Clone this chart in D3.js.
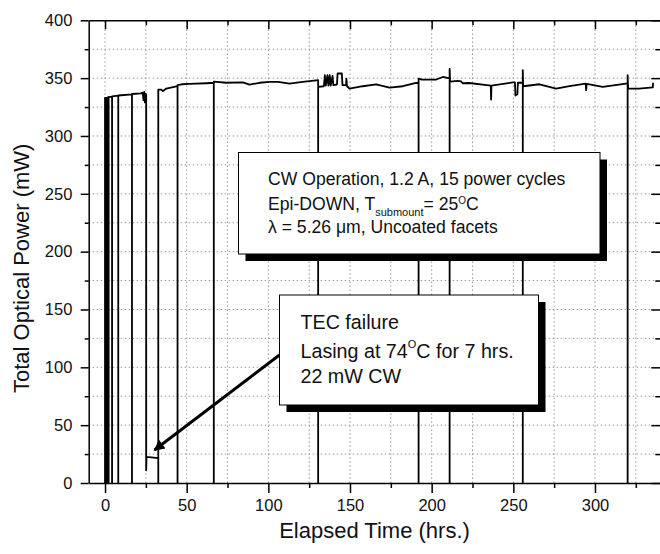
<!DOCTYPE html>
<html>
<head>
<meta charset="utf-8">
<script src="https://cdn.jsdelivr.net/npm/d3@7"></script>
<style>
  body { margin: 0; background: #fff; }
  svg { display: block; font-family: "Liberation Sans", Arial, sans-serif; }
  .grid line { stroke: #9a9a9a; stroke-width: 1; stroke-dasharray: 1.5,2.5; }
  .ax path, .ax line { stroke: #000; stroke-width: 1.5; }
  .ax text { font-size: 16.5px; fill: #111; }
</style>
</head>
<body>
<svg id="chart"></svg>
<script>
// elapsed time (hrs) / total optical power (mW)
// each power cycle goes down to 0 and back up
const traceTime = [
  0, 0, 0.4, 0.4, 0.8, 0.8, 1.2, 1.2, 1.6, 1.6, 2.0, 2.0, 2.2, 2.2,
  4.3, 4.3, 4.3, 8.1, 8.1, 8.1, 16.5, 16.5, 16.5, 22, 23, 23.6, 24, 24.4, 24.8,
  25.2, 25.2, 25.4, 32.6, 32.6, 32.6, 34.5, 35.5, 37.5, 44.4, 44.4, 44.4,
  47, 51.7, 62, 66.6, 66.6, 66.6, 74.2, 84.4, 88.5, 94.6, 100.7, 106, 113, 121, 129.3,
  130.5, 130.5, 130.5, 134, 134.6, 135.2, 136.2, 136.8, 137.6, 138.2, 139.3, 139.8,
  142, 142.4, 145, 145.4, 147.6, 147.8, 148.2, 149.7, 157.8, 166, 174.2, 182.3, 190.5,
  192, 192, 192, 194, 202.8, 206.8, 211, 211, 211, 211.3, 216, 218, 219, 223,
  236.2, 236.4, 236.6, 249.7, 251, 251.3, 252.5, 252.8, 255.8, 255.8, 255.8, 256,
  266, 276.2, 284.4, 294.3, 294.6, 294.9, 304.8, 319, 320, 320, 320, 320.3, 327, 335.4, 335.6
];
const tracePower = [
  0, 333, 333, 0, 0, 333, 333, 0, 0, 333.3, 333.5, 0, 0, 333.5,
  334, 0, 334.2, 334.8, 0, 335, 336, 0, 336.3, 336.8, 337.5, 331, 338, 329, 336.5,
  336, 11, 22.5, 21.5, 0, 340, 340, 338.8, 341, 343, 0, 344,
  344.7, 345, 345.6, 346, 0, 347, 346, 346.4, 344.4, 346, 346.7, 346.8, 345.3, 346.7, 348,
  348.2, 0, 342.4, 343, 352.5, 343.5, 352.5, 343.5, 352.5, 343.5, 352, 344,
  344.5, 354, 354, 344, 344, 349.5, 343, 341, 343, 344.7, 341.8, 343, 345.8,
  346, 0, 349.6, 348.8, 348.8, 351, 349.8, 0, 358, 347, 347.6, 347.2, 345.6, 345.8,
  343.6, 331.5, 343.5, 346.3, 346.3, 335, 336, 346, 346, 0, 356.8, 343,
  344.7, 341, 343, 345.3, 339.5, 345, 342.4, 345.3, 345.3, 0, 352.5, 341, 341, 342, 346
];

const xTicks = [0, 50, 100, 150, 200, 250, 300];
const xMinor = [25, 75, 125, 175, 225, 275, 325];
const yTicks = [0, 50, 100, 150, 200, 250, 300, 350, 400];
const yMinor = [25, 75, 125, 175, 225, 275, 325, 375];
const gridX = [0, 25, 50, 75, 100, 125, 150, 175, 200, 225, 250, 275, 300, 325];
const gridY = [25, 50, 75, 100, 125, 150, 175, 200, 225, 250, 275, 300, 325, 350, 375];

// arrow from the TEC box to the 22 mW segment (hrs, mW)
const arrowFrom = [106.8, 110.6];
const arrowTo = [30.3, 28.5];

const width = 660, height = 554;
const marginLeft = 88.7, marginRight = -0.3, marginTop = 20.3, marginBottom = 71;

const svg = d3.select('#chart')
  .attr('width', width)
  .attr('height', height)
  .attr('viewBox', [0, 0, width, height]);

const x = d3.scaleLinear()
  .domain([-10, 340])
  .range([marginLeft, width - marginRight]);
const y = d3.scaleLinear()
  .domain([0, 400])
  .range([height - marginBottom, marginTop]);

/** GRID * */
svg.append('g').attr('class', 'grid')
  .selectAll('line').data(gridX).join('line')
  .attr('x1', d => x(d)).attr('x2', d => x(d))
  .attr('y1', y(0)).attr('y2', y(400));
svg.append('g').attr('class', 'grid')
  .selectAll('line').data(gridY).join('line')
  .attr('x1', x(-10)).attr('x2', x(340))
  .attr('y1', d => y(d)).attr('y2', d => y(d));

/** TRACE * */
const pts = traceTime.map((t, i) => [t, tracePower[i]]);
svg.append('path')
  .datum(pts)
  .attr('fill', 'none')
  .attr('stroke', '#000')
  .attr('stroke-width', 1.8)
  .attr('stroke-linejoin', 'round')
  .attr('d', d3.line().x(d => x(d[0])).y(d => y(d[1])));

/** AXES * */
const b = height - marginBottom;
svg.append('g').attr('class', 'ax')
  .attr('transform', `translate(0,${b})`)
  .call(d3.axisBottom(x).tickValues(xTicks).tickSize(10).tickPadding(6.5).tickSizeOuter(0));
svg.append('g').attr('class', 'ax')
  .attr('transform', `translate(0,${b})`)
  .call(d3.axisBottom(x).tickValues(xMinor).tickSize(5).tickFormat(''))
  .call(g => g.select('.domain').remove());
svg.append('g').attr('class', 'ax')
  .attr('transform', `translate(${marginLeft},0)`)
  .call(d3.axisLeft(y).tickValues(yTicks).tickSize(8).tickPadding(8.3).tickSizeOuter(0));
svg.append('g').attr('class', 'ax')
  .attr('transform', `translate(${marginLeft},0)`)
  .call(d3.axisLeft(y).tickValues(yMinor).tickSize(4).tickFormat(''))
  .call(g => g.select('.domain').remove());
// top and right: ticks point inwards
svg.append('g').attr('class', 'ax')
  .attr('transform', `translate(0,${marginTop})`)
  .call(d3.axisTop(x).tickValues(xTicks).tickSize(-9).tickFormat('').tickSizeOuter(0));
svg.append('g').attr('class', 'ax')
  .attr('transform', `translate(0,${marginTop})`)
  .call(d3.axisTop(x).tickValues(xMinor).tickSize(-5).tickFormat(''))
  .call(g => g.select('.domain').remove());
svg.append('g').attr('class', 'ax')
  .attr('transform', `translate(${x(340)},0)`)
  .call(d3.axisRight(y).tickValues(yTicks).tickSize(-9).tickFormat('').tickSizeOuter(0));
svg.append('g').attr('class', 'ax')
  .attr('transform', `translate(${x(340)},0)`)
  .call(d3.axisRight(y).tickValues(yMinor).tickSize(-5).tickFormat(''))
  .call(g => g.select('.domain').remove());

/** AXIS TITLES * */
svg.append('text')
  .attr('x', (marginLeft + x(340)) / 2).attr('y', 538)
  .attr('text-anchor', 'middle')
  .style('font-size', '22px').style('fill', '#111')
  .text('Elapsed Time (hrs.)');
svg.append('text')
  .attr('transform', 'translate(28.5,393) rotate(-90)')
  .attr('text-anchor', 'start')
  .style('font-size', '22px').style('fill', '#111')
  .text('Total Optical Power (mW)');

/** ANNOTATIONS * */
function box(x0, y0, w, h) {
  svg.append('rect').attr('x', x0 + 7).attr('y', y0 + 7).attr('width', w).attr('height', h)
    .attr('fill', '#000');
  svg.append('rect').attr('x', x0).attr('y', y0).attr('width', w).attr('height', h)
    .attr('fill', '#fff').attr('stroke', '#000').attr('stroke-width', 1);
}

box(238.5, 152.5, 361.5, 101.5);
const t1 = svg.append('g').style('font-size', '17.6px').style('fill', '#111');
t1.append('text').attr('x', 268).attr('y', 185).text('CW Operation, 1.2 A, 15 power cycles');
let l2 = t1.append('text').attr('x', 268).attr('y', 210);
l2.append('tspan').text('Epi-DOWN, T');
l2.append('tspan').attr('dy', 6).style('font-size', '11px').text('submount');
l2.append('tspan').attr('dy', -6).text('= 25');
l2.append('tspan').attr('dy', -6.5).style('font-size', '10px').text('O');
l2.append('tspan').attr('dy', 6.5).text('C');
t1.append('text').attr('x', 268).attr('y', 233).text('\u03bb = 5.26 \u03bcm, Uncoated facets');

// arrow
svg.append('defs').append('marker')
  .attr('id', 'head').attr('viewBox', '0 0 10 10')
  .attr('refX', 9).attr('refY', 5)
  .attr('markerWidth', 6).attr('markerHeight', 3.6)
  .attr('orient', 'auto')
  .append('path').attr('d', 'M0,0L10,5L0,10z').attr('fill', '#000');
svg.append('line')
  .attr('x1', x(arrowFrom[0])).attr('y1', y(arrowFrom[1]))
  .attr('x2', x(arrowTo[0])).attr('y2', y(arrowTo[1]))
  .attr('stroke', '#000').attr('stroke-width', 3)
  .attr('marker-end', 'url(#head)');

box(279.5, 295, 259, 110);
const t2 = svg.append('g').style('font-size', '19.7px').style('fill', '#111');
t2.append('text').attr('x', 300.5).attr('y', 329).text('TEC failure');
let m2 = t2.append('text').attr('x', 300.5).attr('y', 358);
m2.append('tspan').text('Lasing at 74');
m2.append('tspan').attr('dy', -10).style('font-size', '11px').text('O');
m2.append('tspan').attr('dy', 10).text('C for 7 hrs.');
t2.append('text').attr('x', 300.5).attr('y', 383).text('22 mW CW');
</script>
</body>
</html>
